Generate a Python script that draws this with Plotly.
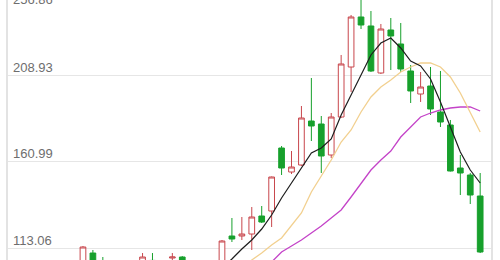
import plotly.graph_objects as go

# ---- data ----
idx = list(range(41))
opens = [103.65, 110.31, 105.87, 103.5, 104.0, 103.0, 104.5, 106.2, 104.5, 107.53,
         108.09, 104.0, 105.0, 104.0, 104.5, 119.76, 119.76, 120.87, 130.87, 133.65,
         168.65, 155.31, 159.20, 183.65, 181.98, 164.76, 185.87, 213.65, 241.43, 236.43,
         210.32, 234.21, 226.43, 211.43, 198.65, 203.09, 188.65, 181.43, 157.54, 153.65,
         141.98]
highs = [114.20, 111.98, 108.09, 105.5, 105.8, 105.0, 110.31, 110.31, 105.9, 110.31,
         108.6, 105.8, 106.2, 106.0, 117.54, 129.76, 130.31, 135.87, 136.43, 152.8,
         169.76, 166.98, 191.98, 207.54, 186.43, 188.09, 220.32, 242.54, 256.86, 244.76,
         237.54, 240.87, 238.10, 214.76, 210.87, 213.65, 211.43, 184.21, 164.76, 154.76,
         154.76]
lows = [101.98, 101.5, 103.0, 102.0, 102.5, 101.8, 103.5, 103.0, 102.8, 106.0,
        103.5, 102.5, 103.0, 102.8, 103.8, 116.43, 117.54, 111.98, 126.98, 124.76,
        153.65, 154.20, 158.65, 172.54, 154.76, 163.09, 185.32, 199.76, 234.76, 210.87,
        209.76, 211.98, 210.87, 193.65, 194.21, 186.98, 180.32, 155.6, 142.54, 137.54,
        110.31]
closes = [113.65, 103.1, 104.2, 104.5, 103.2, 104.8, 108.09, 104.0, 103.6, 108.09,
          104.5, 105.0, 103.8, 105.5, 116.98, 118.09, 120.87, 130.31, 127.53, 152.54,
          157.54, 158.09, 185.32, 180.87, 164.20, 185.87, 215.32, 241.43, 236.98, 211.43,
          234.76, 230.87, 212.54, 200.32, 202.54, 190.32, 183.09, 155.87, 154.76, 142.54,
          110.87]

ma5_x = list(range(14, 41))
ma5 = [101.98, 106.97, 112.54, 117.54, 123.65, 131.43, 140.87, 149.20, 158.09, 165.87,
       168.65, 173.65, 186.98, 198.09, 209.21, 220.32, 226.98, 229.76, 224.21, 216.98,
       214.20, 206.98, 194.21, 179.76, 166.43, 156.43, 149.20]
ma10_x = list(range(16, 41))
ma10 = [101.98, 106.43, 110.31, 114.76, 118.65, 125.87, 132.54, 144.20, 153.09, 161.98,
        171.98, 178.65, 188.65, 196.98, 202.54, 206.43, 210.87, 213.65, 215.87, 215.87,
        213.65, 208.09, 199.20, 188.65, 177.54]
ma20_x = list(range(18, 41))
ma20 = [99.76, 105.32, 110.87, 114.20, 117.54, 121.43, 125.32, 129.76, 134.20, 141.43,
        149.20, 156.43, 161.98, 166.98, 174.76, 180.32, 185.87, 188.09, 189.76, 190.87,
        191.43, 191.43, 189.20]

tick_vals = [113.06, 160.99, 208.93, 256.86]
tick_text = ["113.06", "160.99", "208.93", "256.86"]

RED = "#c8464c"
GREEN = "#17a02c"

fig = go.Figure()
fig.add_trace(go.Candlestick(
    x=idx, open=opens, high=highs, low=lows, close=closes,
    increasing=dict(line=dict(color=RED, width=1), fillcolor="white"),
    decreasing=dict(line=dict(color=GREEN, width=1), fillcolor=GREEN),
    whiskerwidth=0, hoverinfo="skip", showlegend=False,
))
fig.add_trace(go.Scatter(x=ma20_x, y=ma20, mode="lines",
                         line=dict(color="#c443c8", width=1.3), showlegend=False, hoverinfo="skip"))
fig.add_trace(go.Scatter(x=ma10_x, y=ma10, mode="lines",
                         line=dict(color="#f2d08f", width=1.3), showlegend=False, hoverinfo="skip"))
fig.add_trace(go.Scatter(x=ma5_x, y=ma5, mode="lines",
                         line=dict(color="#1e1e1e", width=1.2), showlegend=False, hoverinfo="skip"))

label_font = dict(family="Arial", size=13, color="#6e6e6e")
y_lo, y_hi = 106.43, 250.87
for v, t in zip(tick_vals, tick_text):
    if v > y_hi:
        # top label sits just above the visible area, only its lower part shows
        fig.add_annotation(x=0, xref="paper", y=1, yref="paper", text=t, showarrow=False,
                           xanchor="left", yanchor="middle", xshift=3, yshift=1,
                           font=label_font)
    else:
        fig.add_annotation(x=0, xref="paper", y=v, yref="y", text=t, showarrow=False,
                           xanchor="left", yanchor="middle", xshift=3, yshift=8,
                           font=label_font)

fig.update_layout(
    width=500, height=260,
    margin=dict(l=8, r=9, t=0, b=0),
    paper_bgcolor="white", plot_bgcolor="white",
    boxgap=0.18,
    showlegend=False,
    xaxis=dict(range=[-7.55, 41.09], showgrid=False, zeroline=False,
               showticklabels=False, rangeslider=dict(visible=False), fixedrange=True),
    yaxis=dict(range=[y_lo, y_hi], tickvals=tick_vals, showticklabels=False,
               gridcolor="#e6e6e6", gridwidth=1, zeroline=False,
               showline=True, mirror=True, linecolor="#e3e3e3", linewidth=1.5,
               ticks="", fixedrange=True),
)

fig.write_html("out.html")
